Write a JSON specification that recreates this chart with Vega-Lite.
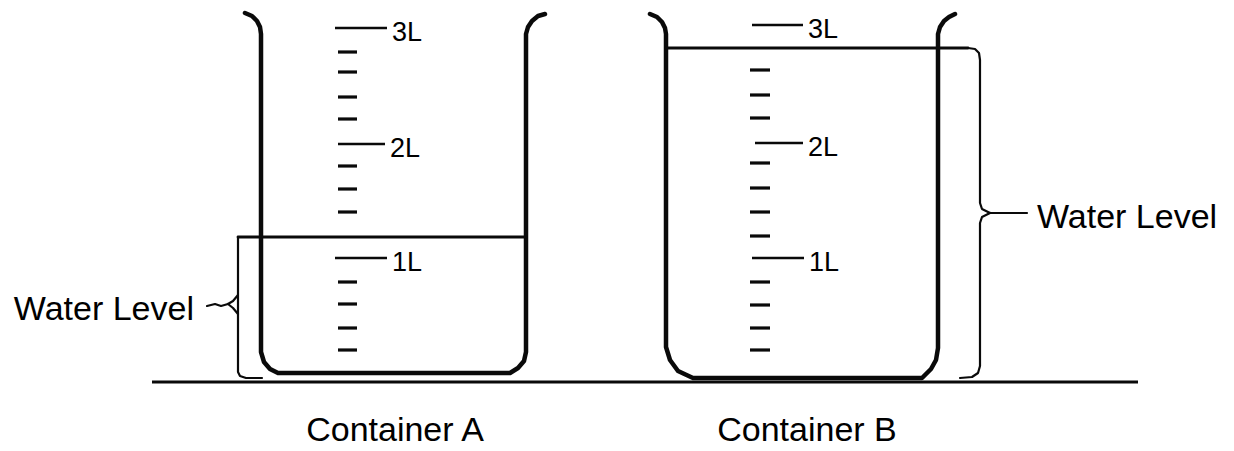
{
  "$schema": "https://vega.github.io/schema/vega-lite/v6.json",
  "width": 1234,
  "height": 451,
  "padding": 0,
  "autosize": "none",
  "background": "white",
  "config": {"view": {"stroke": null}},
  "datasets": {
    "shapes": [
      {"part": "beakerA", "seq": 0, "x": 245, "y": 13},
      {"part": "beakerA", "seq": 1, "x": 252, "y": 16},
      {"part": "beakerA", "seq": 2, "x": 257, "y": 21},
      {"part": "beakerA", "seq": 3, "x": 260, "y": 27},
      {"part": "beakerA", "seq": 4, "x": 261, "y": 34},
      {"part": "beakerA", "seq": 5, "x": 261, "y": 352},
      {"part": "beakerA", "seq": 6, "x": 264, "y": 362},
      {"part": "beakerA", "seq": 7, "x": 270, "y": 369},
      {"part": "beakerA", "seq": 8, "x": 278, "y": 373},
      {"part": "beakerA", "seq": 9, "x": 510, "y": 373},
      {"part": "beakerA", "seq": 10, "x": 518, "y": 368},
      {"part": "beakerA", "seq": 11, "x": 524, "y": 361},
      {"part": "beakerA", "seq": 12, "x": 526, "y": 352},
      {"part": "beakerA", "seq": 13, "x": 526, "y": 34},
      {"part": "beakerA", "seq": 14, "x": 528, "y": 27},
      {"part": "beakerA", "seq": 15, "x": 532, "y": 21},
      {"part": "beakerA", "seq": 16, "x": 538, "y": 16},
      {"part": "beakerA", "seq": 17, "x": 545, "y": 14},
      {"part": "beakerB", "seq": 0, "x": 650, "y": 14},
      {"part": "beakerB", "seq": 1, "x": 657, "y": 17},
      {"part": "beakerB", "seq": 2, "x": 662, "y": 22},
      {"part": "beakerB", "seq": 3, "x": 665, "y": 28},
      {"part": "beakerB", "seq": 4, "x": 666, "y": 34},
      {"part": "beakerB", "seq": 5, "x": 666, "y": 347},
      {"part": "beakerB", "seq": 6, "x": 670, "y": 360},
      {"part": "beakerB", "seq": 7, "x": 678, "y": 371},
      {"part": "beakerB", "seq": 8, "x": 693, "y": 378},
      {"part": "beakerB", "seq": 9, "x": 922, "y": 378},
      {"part": "beakerB", "seq": 10, "x": 931, "y": 369},
      {"part": "beakerB", "seq": 11, "x": 936, "y": 360},
      {"part": "beakerB", "seq": 12, "x": 938, "y": 348},
      {"part": "beakerB", "seq": 13, "x": 938, "y": 34},
      {"part": "beakerB", "seq": 14, "x": 940, "y": 27},
      {"part": "beakerB", "seq": 15, "x": 944, "y": 21},
      {"part": "beakerB", "seq": 16, "x": 949, "y": 17},
      {"part": "beakerB", "seq": 17, "x": 955, "y": 14},
      {"part": "waterA", "seq": 0, "x": 526, "y": 237},
      {"part": "waterA", "seq": 1, "x": 238, "y": 237},
      {"part": "bracketA", "seq": 0, "x": 238, "y": 237},
      {"part": "bracketA", "seq": 1, "x": 238, "y": 372},
      {"part": "bracketA", "seq": 2, "x": 240, "y": 376},
      {"part": "bracketA", "seq": 3, "x": 246, "y": 378},
      {"part": "bracketA", "seq": 4, "x": 262, "y": 378},
      {"part": "forkA1", "seq": 0, "x": 207, "y": 306},
      {"part": "forkA1", "seq": 1, "x": 215, "y": 304},
      {"part": "forkA1", "seq": 2, "x": 221, "y": 306},
      {"part": "forkA1", "seq": 3, "x": 228, "y": 304},
      {"part": "forkA1", "seq": 4, "x": 233, "y": 301},
      {"part": "forkA1", "seq": 5, "x": 238, "y": 295},
      {"part": "forkA2", "seq": 0, "x": 228, "y": 304},
      {"part": "forkA2", "seq": 1, "x": 233, "y": 308},
      {"part": "forkA2", "seq": 2, "x": 238, "y": 314},
      {"part": "waterB", "seq": 0, "x": 666, "y": 48},
      {"part": "waterB", "seq": 1, "x": 968, "y": 48},
      {"part": "bracketB", "seq": 0, "x": 968, "y": 48},
      {"part": "bracketB", "seq": 1, "x": 975, "y": 49},
      {"part": "bracketB", "seq": 2, "x": 979, "y": 53},
      {"part": "bracketB", "seq": 3, "x": 980, "y": 60},
      {"part": "bracketB", "seq": 4, "x": 980, "y": 203},
      {"part": "bracketB", "seq": 5, "x": 982, "y": 209},
      {"part": "bracketB", "seq": 6, "x": 990, "y": 213},
      {"part": "bracketB", "seq": 7, "x": 1027, "y": 213},
      {"part": "braceB", "seq": 0, "x": 990, "y": 213},
      {"part": "braceB", "seq": 1, "x": 982, "y": 217},
      {"part": "braceB", "seq": 2, "x": 980, "y": 223},
      {"part": "braceB", "seq": 3, "x": 980, "y": 366},
      {"part": "braceB", "seq": 4, "x": 978, "y": 373},
      {"part": "braceB", "seq": 5, "x": 972, "y": 377},
      {"part": "braceB", "seq": 6, "x": 960, "y": 378},
      {"part": "floor", "seq": 0, "x": 152, "y": 382},
      {"part": "floor", "seq": 1, "x": 1138, "y": 382}
    ],
    "major": [
      {"beaker": "A", "label": "3L", "x1": 335, "x2": 387, "y": 28},
      {"beaker": "A", "label": "2L", "x1": 338, "x2": 385, "y": 144},
      {"beaker": "A", "label": "1L", "x1": 335, "x2": 387, "y": 258},
      {"beaker": "B", "label": "3L", "x1": 752, "x2": 803, "y": 25},
      {"beaker": "B", "label": "2L", "x1": 755, "x2": 803, "y": 143},
      {"beaker": "B", "label": "1L", "x1": 752, "x2": 804, "y": 258}
    ],
    "minor": [
      {"beaker": "A", "x1": 338, "x2": 357, "y": 52},
      {"beaker": "A", "x1": 338, "x2": 357, "y": 72},
      {"beaker": "A", "x1": 338, "x2": 357, "y": 97},
      {"beaker": "A", "x1": 338, "x2": 357, "y": 119},
      {"beaker": "A", "x1": 338, "x2": 357, "y": 166},
      {"beaker": "A", "x1": 338, "x2": 357, "y": 189},
      {"beaker": "A", "x1": 338, "x2": 357, "y": 212},
      {"beaker": "A", "x1": 338, "x2": 357, "y": 282},
      {"beaker": "A", "x1": 338, "x2": 357, "y": 304},
      {"beaker": "A", "x1": 338, "x2": 357, "y": 328},
      {"beaker": "A", "x1": 338, "x2": 357, "y": 350},
      {"beaker": "B", "x1": 750, "x2": 770, "y": 70},
      {"beaker": "B", "x1": 750, "x2": 770, "y": 95},
      {"beaker": "B", "x1": 750, "x2": 770, "y": 118},
      {"beaker": "B", "x1": 750, "x2": 770, "y": 163},
      {"beaker": "B", "x1": 750, "x2": 770, "y": 188},
      {"beaker": "B", "x1": 750, "x2": 770, "y": 212},
      {"beaker": "B", "x1": 750, "x2": 770, "y": 236},
      {"beaker": "B", "x1": 750, "x2": 770, "y": 282},
      {"beaker": "B", "x1": 750, "x2": 770, "y": 305},
      {"beaker": "B", "x1": 750, "x2": 770, "y": 328},
      {"beaker": "B", "x1": 750, "x2": 770, "y": 350}
    ],
    "names": [
      {"text": "Container A", "x": 395, "y": 441},
      {"text": "Container B", "x": 807, "y": 441}
    ],
    "callouts": [
      {"text": "Water Level", "side": "left", "x": 194, "y": 320},
      {"text": "Water Level", "side": "right", "x": 1037, "y": 228}
    ]
  },
  "layer": [
    {
      "data": {"name": "shapes"},
      "transform": [{"filter": "datum.part === 'beakerA' || datum.part === 'beakerB'"}],
      "mark": {"type": "line", "color": "#0a0a0a", "strokeWidth": 4.5, "strokeCap": "round", "strokeJoin": "round"},
      "encoding": {
        "x": {"field": "x", "type": "quantitative", "scale": {"domain": [0, 1234], "nice": false, "zero": false}, "axis": null},
        "y": {"field": "y", "type": "quantitative", "scale": {"domain": [0, 451], "nice": false, "zero": false, "reverse": true}, "axis": null},
        "detail": {"field": "part"},
        "order": {"field": "seq", "type": "quantitative"}
      }
    },
    {
      "data": {"name": "shapes"},
      "transform": [{"filter": "datum.part === 'waterA' || datum.part === 'waterB'"}],
      "mark": {"type": "line", "color": "#0a0a0a", "strokeWidth": 2.8, "strokeCap": "round", "strokeJoin": "round"},
      "encoding": {
        "x": {"field": "x", "type": "quantitative"},
        "y": {"field": "y", "type": "quantitative"},
        "detail": {"field": "part"},
        "order": {"field": "seq", "type": "quantitative"}
      }
    },
    {
      "data": {"name": "shapes"},
      "transform": [{"filter": "indexof(['bracketA','forkA1','forkA2','bracketB','braceB'], datum.part) >= 0"}],
      "mark": {"type": "line", "color": "#0a0a0a", "strokeWidth": 2.2, "strokeCap": "round", "strokeJoin": "round"},
      "encoding": {
        "x": {"field": "x", "type": "quantitative"},
        "y": {"field": "y", "type": "quantitative"},
        "detail": {"field": "part"},
        "order": {"field": "seq", "type": "quantitative"}
      }
    },
    {
      "data": {"name": "shapes"},
      "transform": [{"filter": "datum.part === 'floor'"}],
      "mark": {"type": "line", "color": "#0a0a0a", "strokeWidth": 3.2},
      "encoding": {
        "x": {"field": "x", "type": "quantitative"},
        "y": {"field": "y", "type": "quantitative"},
        "detail": {"field": "part"},
        "order": {"field": "seq", "type": "quantitative"}
      }
    },
    {
      "data": {"name": "major"},
      "mark": {"type": "rule", "color": "#0a0a0a", "strokeWidth": 2.5},
      "encoding": {
        "x": {"field": "x1", "type": "quantitative"},
        "x2": {"field": "x2"},
        "y": {"field": "y", "type": "quantitative"}
      }
    },
    {
      "data": {"name": "minor"},
      "mark": {"type": "rule", "color": "#0a0a0a", "strokeWidth": 3.2},
      "encoding": {
        "x": {"field": "x1", "type": "quantitative"},
        "x2": {"field": "x2"},
        "y": {"field": "y", "type": "quantitative"}
      }
    },
    {
      "data": {"name": "major"},
      "mark": {"type": "text", "font": "Liberation Sans", "fontSize": 27, "align": "left", "baseline": "alphabetic", "dx": 5, "dy": 13, "color": "#000"},
      "encoding": {
        "x": {"field": "x2", "type": "quantitative"},
        "y": {"field": "y", "type": "quantitative"},
        "text": {"field": "label"}
      }
    },
    {
      "data": {"name": "names"},
      "mark": {"type": "text", "font": "Liberation Sans", "fontSize": 34, "align": "center", "baseline": "alphabetic", "color": "#000"},
      "encoding": {
        "x": {"field": "x", "type": "quantitative"},
        "y": {"field": "y", "type": "quantitative"},
        "text": {"field": "text"}
      }
    },
    {
      "data": {"name": "callouts"},
      "transform": [{"filter": "datum.side === 'left'"}],
      "mark": {"type": "text", "font": "Liberation Sans", "fontSize": 34, "align": "right", "baseline": "alphabetic", "color": "#000"},
      "encoding": {
        "x": {"field": "x", "type": "quantitative"},
        "y": {"field": "y", "type": "quantitative"},
        "text": {"field": "text"}
      }
    },
    {
      "data": {"name": "callouts"},
      "transform": [{"filter": "datum.side === 'right'"}],
      "mark": {"type": "text", "font": "Liberation Sans", "fontSize": 34, "align": "left", "baseline": "alphabetic", "color": "#000"},
      "encoding": {
        "x": {"field": "x", "type": "quantitative"},
        "y": {"field": "y", "type": "quantitative"},
        "text": {"field": "text"}
      }
    }
  ]
}
